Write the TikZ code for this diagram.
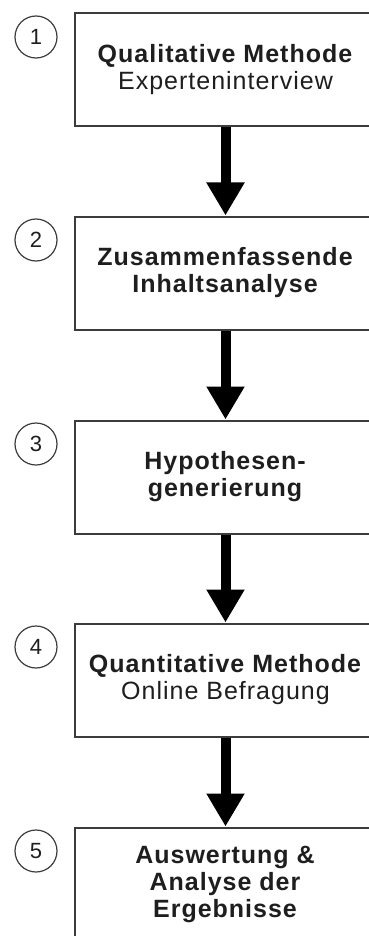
\documentclass[tikz,border=0pt]{standalone}
\usepackage{fontspec}
\setmainfont[LetterSpace=4]{Liberation Sans}
\newfontfamily\numfont{Liberation Sans}
\usetikzlibrary{arrows.meta}
\definecolor{boxline}{HTML}{3C3C3C}
\definecolor{ink}{HTML}{1E1E1E}
\begin{document}
\begin{tikzpicture}[x=1pt,y=-1pt,
  stepbox/.style={draw=boxline, line width=2pt, fill=white,
    minimum width=301pt, minimum height=113pt, inner sep=0pt,
    align=center, text=ink, font=\fontsize{25}{27}\selectfont},
  numcircle/.style={draw=boxline, line width=1.2pt, circle,
    minimum size=42pt, inner sep=0pt, text=ink,
    font=\numfont\fontsize{22}{24}\selectfont},
  flow/.style={line width=10pt, black,
    -{Triangle[length=33pt,width=36pt]}}]
\useasboundingbox (0,0) rectangle (369,936);
\clip (0,0) rectangle (369,936);

% process steps
\node[stepbox] (s1) at (225.5,70)  {\textbf{Qualitative Methode}\\Experteninterview};
\node[stepbox] (s2) at (225.5,273) {\textbf{Zusammenfassende}\\\textbf{Inhaltsanalyse}};
\node[stepbox] (s3) at (225.5,477) {\textbf{Hypothesen-}\\\textbf{generierung}};
\node[stepbox] (s4) at (225.5,680) {\textbf{Quantitative Methode}\\Online Befragung};
\node[stepbox] (s5) at (225.5,884) {\textbf{Auswertung \&}\\\textbf{Analyse der}\\\textbf{Ergebnisse}};

% step numbers
\node[numcircle] (n1) at (36,37)  {1};
\node[numcircle] (n2) at (36,240) {2};
\node[numcircle] (n3) at (36,444) {3};
\node[numcircle] (n4) at (36,647) {4};
\node[numcircle] (n5) at (36,851) {5};

% flow arrows
\draw[flow] (s1.south) -- (s2.north);
\draw[flow] (s2.south) -- (s3.north);
\draw[flow] (s3.south) -- (s4.north);
\draw[flow] (s4.south) -- (s5.north);
\end{tikzpicture}
\end{document}
